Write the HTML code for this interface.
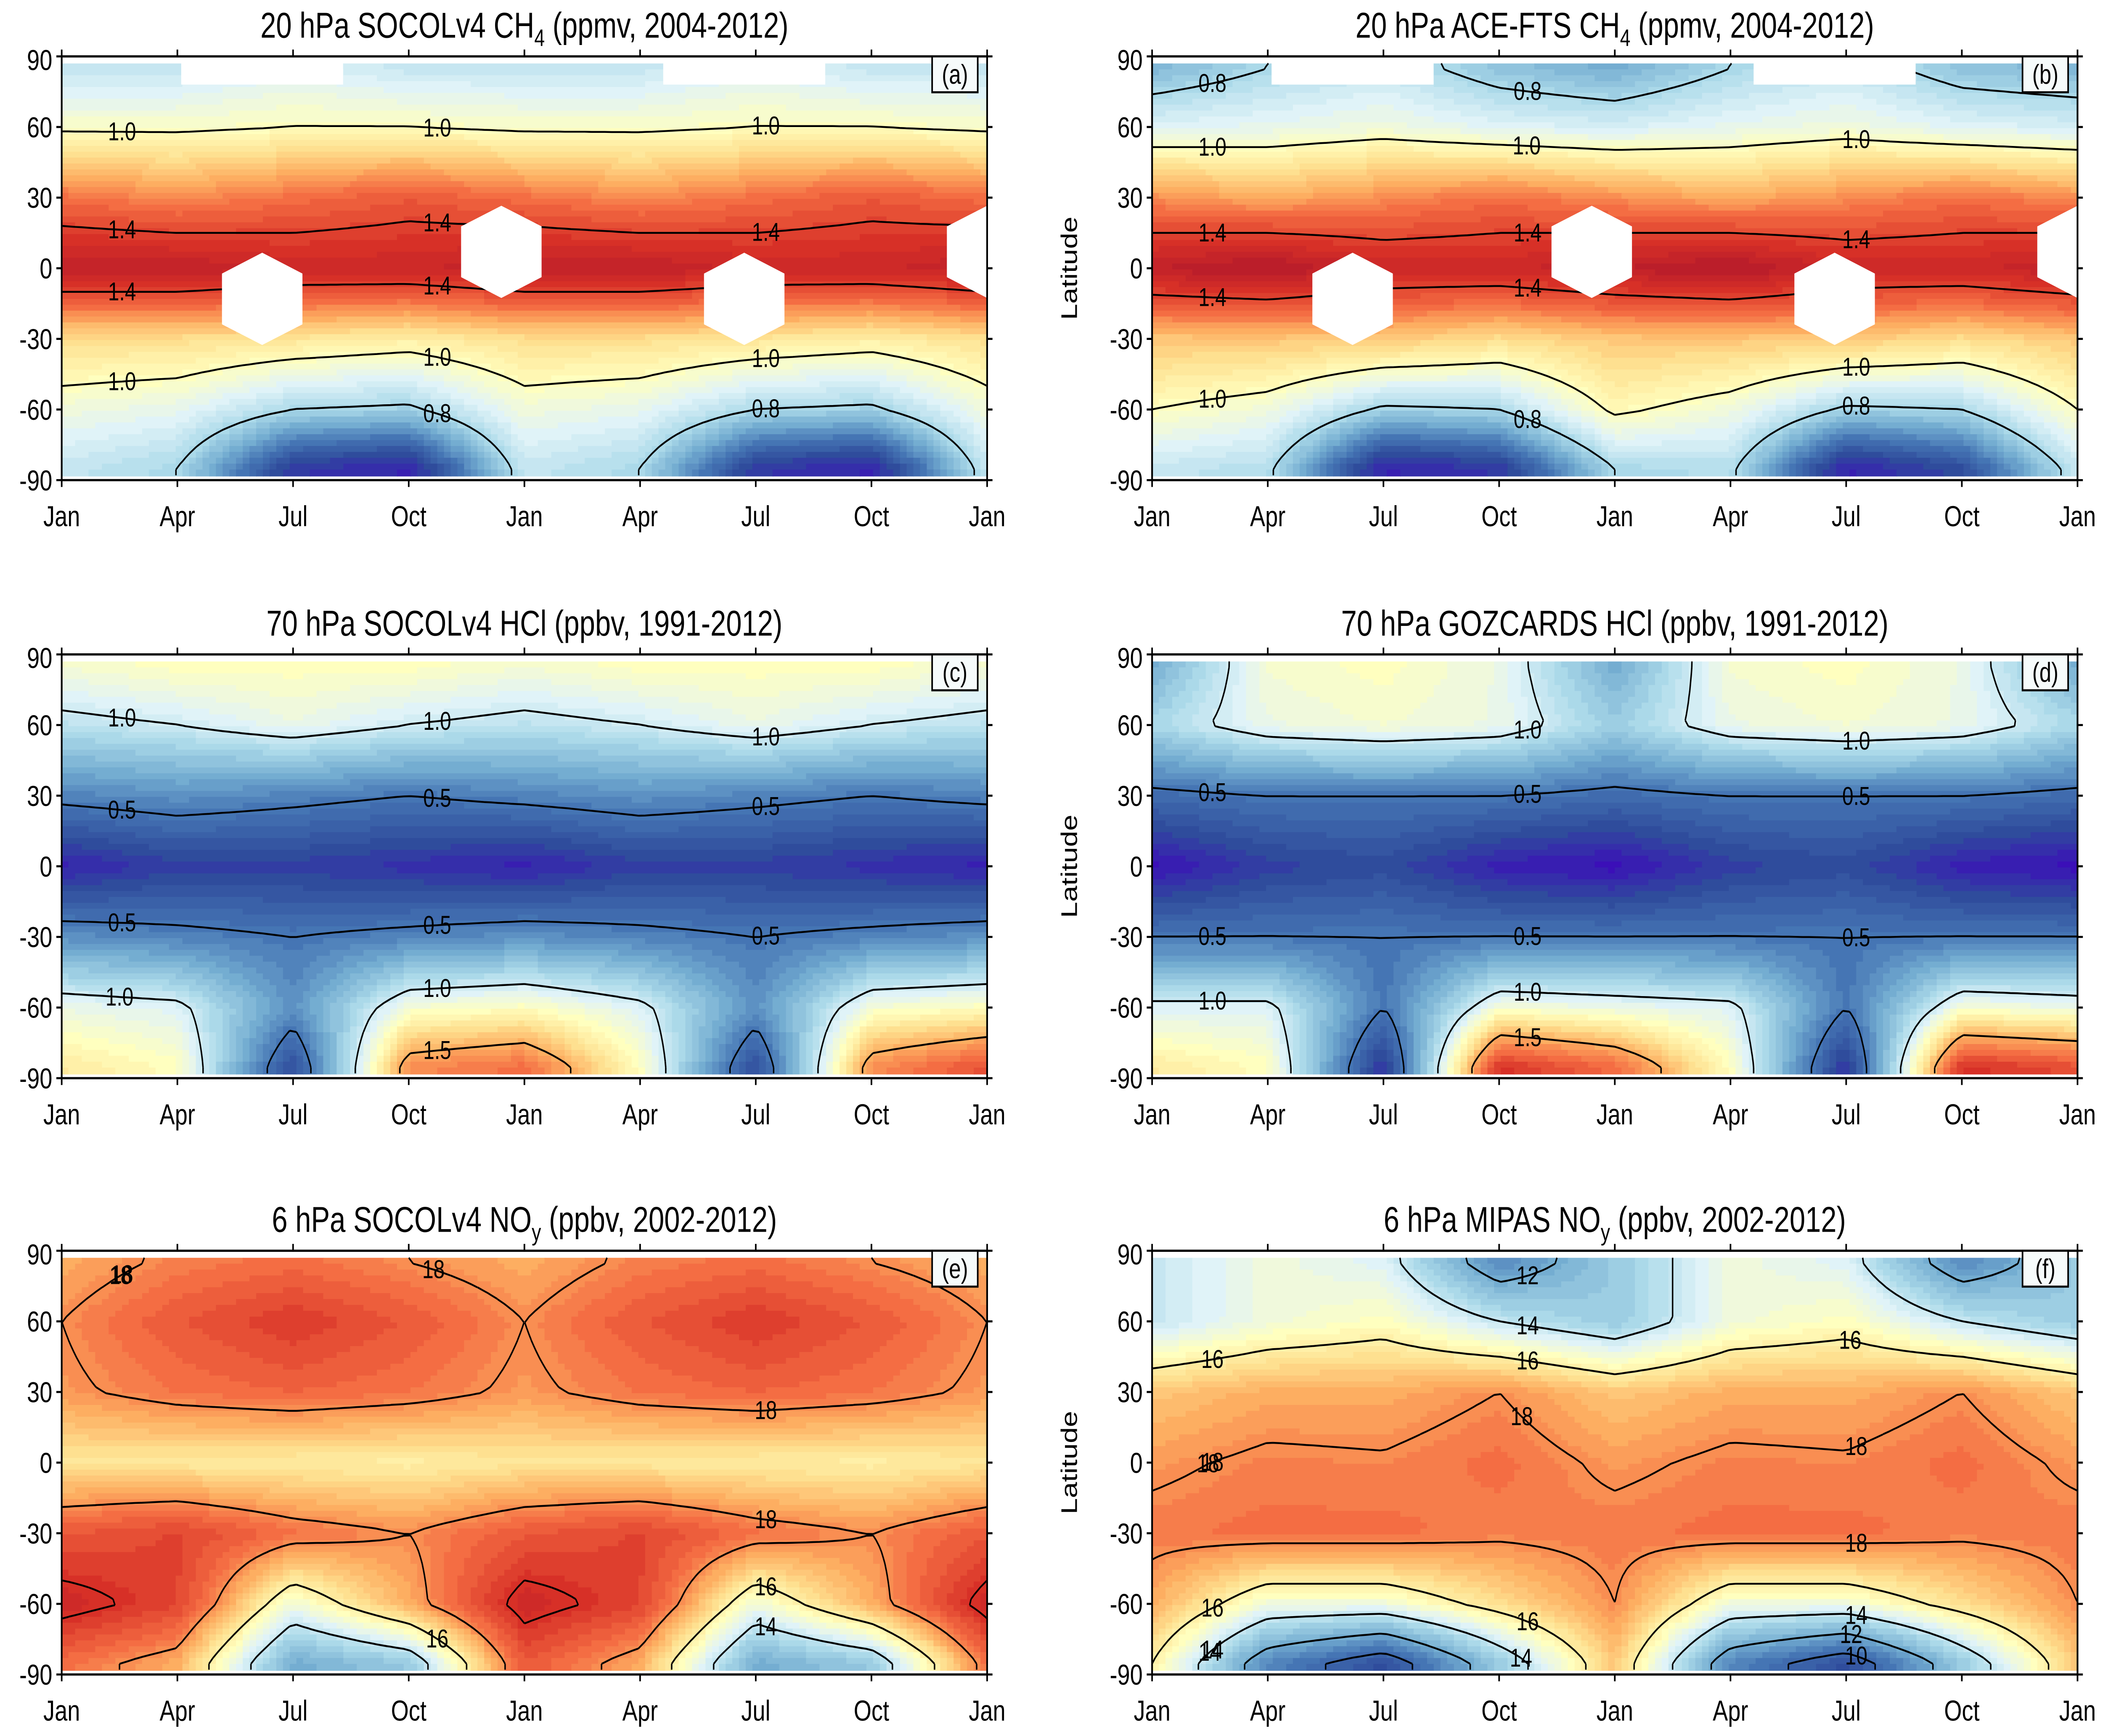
<!DOCTYPE html>
<html><head><meta charset="utf-8"><style>html,body{margin:0;padding:0;background:#fff;width:100%;height:100%;overflow:hidden}svg{display:block;position:absolute;left:0;top:0;width:100vw;height:100vh}</style></head>
<body>
<svg id="fig" xmlns="http://www.w3.org/2000/svg" viewBox="0 0 1568 1016" preserveAspectRatio="none" font-family="Liberation Sans, sans-serif"></svg>
<script>
var lats=[-85,-60,-30,0,30,60,85];
var monthLabels=["Jan","Apr","Jul","Oct","Jan","Apr","Jul","Oct","Jan"];
var latTicks=[90,60,30,0,-30,-60,-90];
var palette=["#3b0fb8","#2f4c9c","#4575b4","#74add1","#abd9e9","#e0f3f8","#ffffbf","#fee090","#fdae61","#f46d43","#d73027","#b2182b"];
var stopsCH4=[0.35,0.5,0.6,0.7,0.8,0.9,1.0,1.1,1.2,1.3,1.45,1.6];
var stopsHCl=[0.1,0.3,0.5,0.7,0.9,1.05,1.2,1.35,1.5,1.7,1.9,2.2];
var stopsNOy=[8,9,10.5,12,13.5,14.5,15.5,16.5,17.5,18.5,20,21.5];
var levelsCH4=[0.4,0.8,1.0,1.4];
var levelsHCl=[0.5,1.0,1.5,2.0];
var levelsNOy=[10,12,14,16,18,20];
var labelsCH4=["0.4","0.8","1.0","1.4"];
var labelsHCl=["0.5","1.0","1.5","2.0"];
var labelsNOy=["10","12","14","16","18","20"];
// missing-data hexagons: [month, lat]
var missingCH4=[[5.2,-13],[11.4,7],[17.7,-13],[24,7]];
// missing polar cap months: [startMonth, endMonth]
var missingCapCH4=[[3.1,7.3],[15.6,19.8]];
// rows: lat -85..85 ; columns Jan,Apr,Jul,Oct,Jan,Apr,Jul,Oct,Jan
var gridA=[[0.85,0.8,0.45,0.4,0.85,0.8,0.45,0.4,0.85],[0.95,0.92,0.8,0.78,0.95,0.92,0.8,0.78,0.95],[1.1,1.1,1.08,1.05,1.1,1.1,1.08,1.05,1.1],[1.55,1.55,1.5,1.5,1.55,1.55,1.5,1.5,1.55],[1.3,1.25,1.3,1.35,1.3,1.25,1.3,1.35,1.3],[0.98,0.98,1.0,1.0,0.98,0.98,1.0,1.0,0.98],[0.85,0.85,0.9,0.85,0.85,0.85,0.9,0.85,0.85]];
var gridB=[[0.85,0.82,0.4,0.45,0.8,0.82,0.4,0.5,0.85],[1.0,0.95,0.78,0.8,1.02,0.95,0.78,0.8,1.0],[1.15,1.15,1.15,1.1,1.15,1.15,1.15,1.1,1.15],[1.55,1.6,1.5,1.5,1.55,1.6,1.5,1.5,1.55],[1.25,1.2,1.25,1.3,1.25,1.2,1.25,1.3,1.25],[0.9,0.92,0.95,0.9,0.88,0.92,0.95,0.9,0.88],[0.72,0.8,0.85,0.75,0.7,0.8,0.85,0.75,0.72]];
var gridC=[[1.3,1.2,0.3,1.6,1.7,1.2,0.3,1.6,1.8],[1.1,1.05,0.6,1.15,1.2,1.05,0.6,1.15,1.2],[0.6,0.55,0.5,0.55,0.6,0.55,0.5,0.55,0.6],[0.15,0.25,0.25,0.2,0.15,0.25,0.25,0.2,0.15],[0.55,0.6,0.55,0.5,0.55,0.6,0.55,0.5,0.55],[0.95,1.0,1.1,1.0,0.95,1.0,1.1,1.0,0.95],[1.15,1.2,1.2,1.2,1.15,1.2,1.2,1.2,1.15]];
var gridD=[[1.3,1.2,0.2,1.9,1.7,1.2,0.2,1.9,1.8],[1.05,1.05,0.5,1.15,1.1,1.05,0.5,1.15,1.1],[0.5,0.5,0.5,0.5,0.5,0.5,0.5,0.5,0.5],[0.1,0.25,0.3,0.15,0.1,0.25,0.3,0.15,0.1],[0.45,0.5,0.5,0.5,0.45,0.5,0.5,0.5,0.45],[0.9,1.1,1.15,1.1,0.85,1.1,1.15,1.1,0.9],[0.7,1.15,1.2,1.1,0.7,1.15,1.2,1.1,0.7]];
var gridE=[[18.5,17.5,12,13,19,17.5,12,13,18.5],[20.5,19.5,15,17.5,20.5,19.5,15,17.5,20.5],[19,19.5,18.5,18,19,19.5,18.5,18,19],[16.3,16.2,16.1,16,16.3,16.2,16.1,16,16.3],[17.8,18.4,18.7,18.4,17.8,18.4,18.7,18.4,17.8],[18,19,19.8,19,18,19,19.8,19,18],[17.5,18.2,18.5,18,17.5,18.2,18.5,18,17.5]];
var gridF=[[16,11,9,13,17,11,9,13,17],[17.5,15,15,16.5,18,15,15,16.5,18],[18.3,18.5,18.5,18.2,18.3,18.5,18.5,18.2,18.3],[17.8,18.2,18.1,18.5,17.8,18.2,18.1,18.5,17.8],[17,17.5,17.5,18,17,17.5,17.5,18,17],[14,15,15.5,14,13,15,15.5,14,13],[14,15,14.5,11,13,15,14.5,11,13]];

var panels=[
 {id:"a",x0:46,y0:33,grid:gridA,stops:stopsCH4,levels:levelsCH4,labels:labelsCH4,missing:missingCH4,caps:missingCapCH4,pre:"20 hPa SOCOLv4 CH",sub:"4",post:" (ppmv, 2004-2012)",ylab:false},
 {id:"b",x0:859,y0:33,grid:gridB,stops:stopsCH4,levels:levelsCH4,labels:labelsCH4,missing:missingCH4,caps:missingCapCH4,pre:"20 hPa ACE-FTS CH",sub:"4",post:" (ppmv, 2004-2012)",ylab:true},
 {id:"c",x0:46,y0:383,grid:gridC,stops:stopsHCl,levels:levelsHCl,labels:labelsHCl,missing:[],caps:[],pre:"70 hPa SOCOLv4 HCl (ppbv, 1991-2012)",sub:"",post:"",ylab:false},
 {id:"d",x0:859,y0:383,grid:gridD,stops:stopsHCl,levels:levelsHCl,labels:labelsHCl,missing:[],caps:[],pre:"70 hPa GOZCARDS HCl (ppbv, 1991-2012)",sub:"",post:"",ylab:true},
 {id:"e",x0:46,y0:732,grid:gridE,stops:stopsNOy,levels:levelsNOy,labels:labelsNOy,missing:[],caps:[],pre:"6 hPa SOCOLv4 NO",sub:"y",post:" (ppbv, 2002-2012)",ylab:false},
 {id:"f",x0:859,y0:732,grid:gridF,stops:stopsNOy,levels:levelsNOy,labels:labelsNOy,missing:[],caps:[],pre:"6 hPa MIPAS NO",sub:"y",post:" (ppbv, 2002-2012)",ylab:true}];
var PW=690,PH=248;
var SVGNS="http://www.w3.org/2000/svg";
var fig=document.getElementById("fig");
function mk(tag,attrs,parent){var e=document.createElementNS(SVGNS,tag);for(var k in attrs)e.setAttribute(k,String(attrs[k]));(parent||fig).appendChild(e);return e;}
function hexc(c){return [parseInt(c.slice(1,3),16),parseInt(c.slice(3,5),16),parseInt(c.slice(5,7),16)];}
function cmap(v,stops){
 if(!(v>stops[0]))return palette[0];
 if(v>=stops[stops.length-1])return palette[palette.length-1];
 for(var i=0;i<stops.length-1;i++){if(v<=stops[i+1]){var t=(v-stops[i])/(stops[i+1]-stops[i]);t=Math.round(t*4)/4;var a=hexc(palette[i]),b=hexc(palette[i+1]);
 return "rgb("+Math.round(a[0]+(b[0]-a[0])*t)+","+Math.round(a[1]+(b[1]-a[1])*t)+","+Math.round(a[2]+(b[2]-a[2])*t)+")";}}
 return palette[palette.length-1];}
function sample(g,m,lat){
 var ci=Math.min(7,Math.floor(m/3));var tx=(m-ci*3)/3;
 var l=Math.max(-85,Math.min(85,lat));var ri=0;while(ri<5&&l>lats[ri+1])ri++;
 var ty=(l-lats[ri])/(lats[ri+1]-lats[ri]);
 var v00=g[ri][ci],v01=g[ri][ci+1],v10=g[ri+1][ci],v11=g[ri+1][ci+1];
 return (v00*(1-tx)+v01*tx)*(1-ty)+(v10*(1-tx)+v11*tx)*ty;}
function xs(p,m){return p.x0+m/24*PW;}
function ys(p,lat){return p.y0+PH/2-lat*(PH/180);}

function drawPanel(p){
 var g=mk("g",{});
 
 
 var field=mk("g",{},g);
 
 
 var NX=138,NY=70,latTop=87,latBot=-88;
 var vals=[];
 for(var j=0;j<=NY;j++){vals.push([]);var lat=latTop-(latTop-latBot)*j/NY;for(var i=0;i<=NX;i++)vals[j].push(sample(p.grid,24*i/NX,lat));}
 var cw=PW/NX,yTop=ys(p,latTop),ch=(ys(p,latBot)-yTop)/NY;
 for(var j=0;j<NY;j++){
  var runStart=0,runCol=null;
  for(var i=0;i<=NX;i++){
   var col=null;
   if(i<NX){var v=(vals[j][i]+vals[j][i+1]+vals[j+1][i]+vals[j+1][i+1])/4;col=cmap(v,p.stops);}
   if(col!==runCol){
    if(runCol!==null)mk("rect",{x:(p.x0+runStart*cw).toFixed(2),y:(yTop+j*ch).toFixed(2),width:((i-runStart)*cw+0.6).toFixed(2),height:(ch+0.6).toFixed(2),fill:runCol},field);
    runStart=i;runCol=col;}
  }
 }
 function px(i){return p.x0+i*cw;} function py(j){return yTop+j*ch;}
 p.levels.forEach(function(L,li){
  var d="";var pts=[];
  for(var j=0;j<NY;j++)for(var i=0;i<NX;i++){
   var c=[[i,j],[i+1,j],[i+1,j+1],[i,j+1]];var e=[];
   for(var k=0;k<4;k++){var a=c[k],b=c[(k+1)%4];var va=vals[a[1]][a[0]],vb=vals[b[1]][b[0]];
    if((va<L)!==(vb<L)){var t=(L-va)/(vb-va);e.push([px(a[0]+(b[0]-a[0])*t),py(a[1]+(b[1]-a[1])*t)]);}}
   for(var k=0;k+1<e.length;k+=2){d+="M"+e[k][0].toFixed(1)+" "+e[k][1].toFixed(1)+"L"+e[k+1][0].toFixed(1)+" "+e[k+1][1].toFixed(1);pts.push([i,e[k][0],e[k][1]]);}
  }
  if(!d)return;
  var path=mk("path",{d:d,stroke:"#000","stroke-width":1.1,fill:"none"},g);
  
  
  [0.06,0.4,0.75].forEach(function(f){var colI=Math.round(f*NX);var cand=pts.filter(function(q){return q[0]===colI;});
   cand.forEach(function(q,qi){if(qi>1)return;
    var t=mk("text",{x:q[1].toFixed(1),y:(q[2]+5).toFixed(1),"font-size":15,"text-anchor":"middle"},g);
    t.textContent=p.labels[li];
    
    });});
 });
 // missing data masks
 p.missing.forEach(function(mm){
  var cx=xs(p,mm[0]),cy=ys(p,mm[1]),hw=30,hh=27;
  var pts=[[cx-hw,cy-hh*0.55],[cx,cy-hh],[cx+hw,cy-hh*0.55],[cx+hw,cy+hh*0.55],[cx,cy+hh],[cx-hw,cy+hh*0.55]].map(function(q){return Math.max(p.x0,Math.min(p.x0+PW,q[0])).toFixed(1)+","+q[1].toFixed(1);}).join(" ");
  var hx=mk("polygon",{points:pts,fill:"#fff"},g);
  
  
 });
 p.caps.forEach(function(cp){
  var r=mk("rect",{x:xs(p,cp[0]).toFixed(1),y:p.y0,width:(xs(p,cp[1])-xs(p,cp[0])).toFixed(1),height:(ys(p,78)-p.y0).toFixed(1),fill:"#fff"},g);
  
  
 });
 var fr=mk("rect",{x:p.x0,y:p.y0,width:PW,height:PH,fill:"none",stroke:"#000","stroke-width":1.3},g);
 
 
 latTicks.forEach(function(l){var y=ys(p,l);
  mk("line",{x1:p.x0-4,x2:p.x0,y1:y,y2:y,stroke:"#000","stroke-width":1.2},g);
  mk("line",{x1:p.x0+PW,x2:p.x0+PW+4,y1:y,y2:y,stroke:"#000","stroke-width":1.2},g);
  var t=mk("text",{x:p.x0-7,y:Math.max(y+6,p.y0+8),"font-size":17,"text-anchor":"end"},g);t.textContent=String(l);
  
  });
 monthLabels.forEach(function(m,k){var x=xs(p,k*3);
  mk("line",{x1:x,x2:x,y1:p.y0+PH,y2:p.y0+PH+4,stroke:"#000","stroke-width":1.2},g);
  mk("line",{x1:x,x2:x,y1:p.y0-4,y2:p.y0,stroke:"#000","stroke-width":1.2},g);
  var t=mk("text",{x:x,y:p.y0+PH+27,"font-size":17,"text-anchor":"middle"},g);t.textContent=m;
  
  });
 var tt=mk("text",{x:p.x0+PW/2,y:p.y0-11,"font-size":21,"text-anchor":"middle"},g);
 
 
 tt.appendChild(document.createTextNode(p.pre));
 if(p.sub){var s=mk("tspan",{"font-size":14,dy:5},tt);s.textContent=p.sub;var r=mk("tspan",{dy:-5},tt);r.textContent=p.post;}
 var lb=mk("rect",{x:p.x0+PW-41,y:p.y0,width:34,height:21,fill:"#f6fbfb",stroke:"#000","stroke-width":1.2},g);
 
 
 var lt=mk("text",{x:p.x0+PW-24,y:p.y0+16,"font-size":16,"text-anchor":"middle"},g);lt.textContent="("+p.id+")";
 
 
 if(p.ylab){var yl=mk("text",{x:0,y:0,"font-size":17,"text-anchor":"middle",transform:"translate(803,"+(p.y0+PH/2)+") rotate(-90)"},g);yl.textContent="Latitude";
  
  }
}
panels.forEach(function(p){try{drawPanel(p);}catch(err){console.log(err);}});
</script>
</body></html>
